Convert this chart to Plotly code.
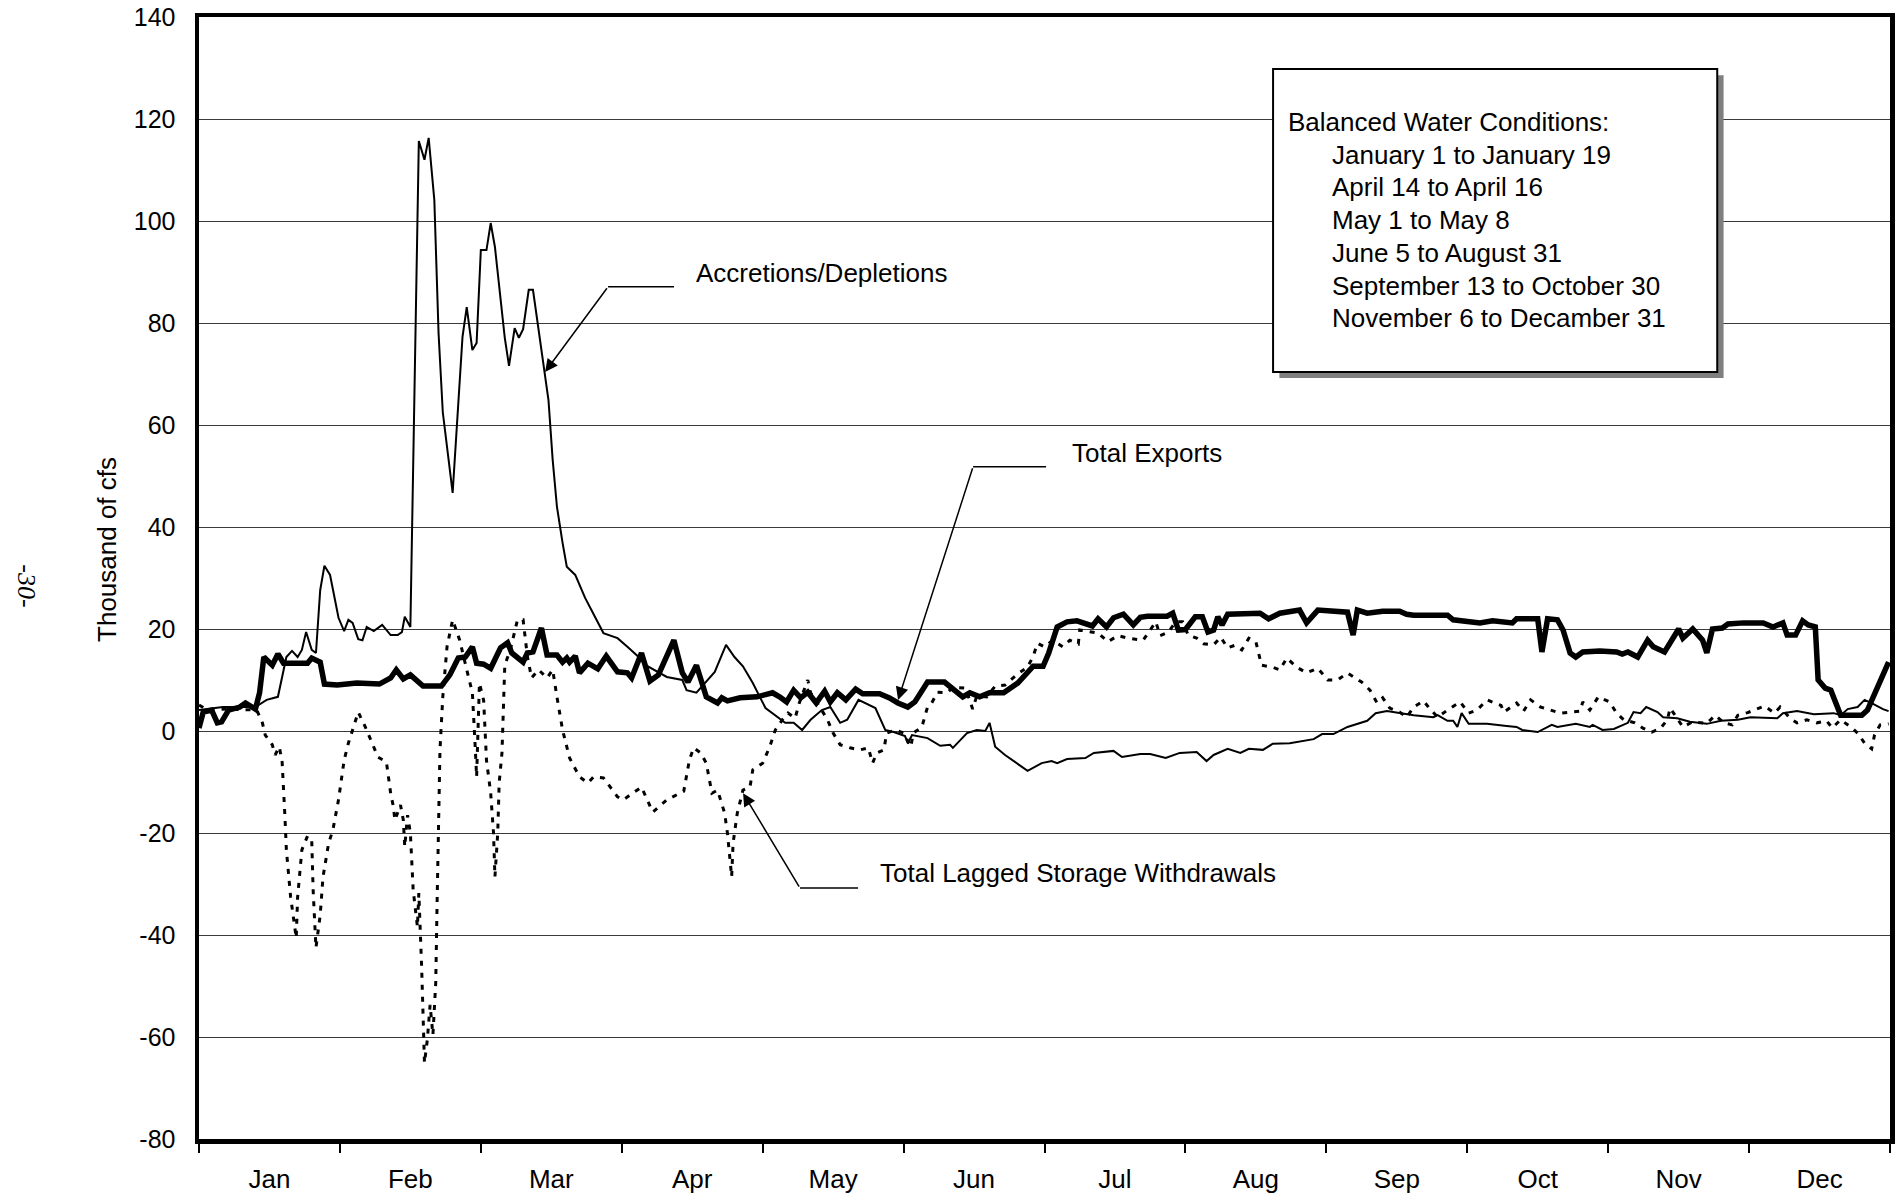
import plotly.graph_objects as go

# ---------------- data (x = position along the year in months, 0 = Jan 1, 12 = Dec 31; y = thousand cfs)
total_exports = [
    (0.00, 0.6), (0.03, 3.7), (0.09, 4.1), (0.13, 1.6), (0.16, 1.8), (0.21, 4.1), (0.29, 4.7), (0.33, 5.5),
    (0.40, 4.3), (0.43, 7.5), (0.46, 14.5), (0.52, 12.9), (0.56, 15.1), (0.60, 13.3), (0.77, 13.3), (0.80, 14.3),
    (0.86, 13.5), (0.89, 9.2), (0.98, 9.0), (1.12, 9.4), (1.28, 9.2), (1.36, 10.4), (1.40, 12.0), (1.45, 10.2),
    (1.50, 11.0), (1.59, 8.8), (1.72, 8.8), (1.78, 11.0), (1.84, 14.3), (1.89, 14.5), (1.94, 16.5), (1.97, 13.3),
    (2.02, 13.1), (2.07, 12.3), (2.14, 16.3), (2.19, 17.3), (2.22, 15.3), (2.30, 13.5), (2.33, 15.3), (2.37, 15.5),
    (2.43, 20.2), (2.47, 14.9), (2.54, 14.9), (2.58, 13.5), (2.61, 14.3), (2.63, 13.5), (2.67, 14.7), (2.70, 11.4),
    (2.76, 13.3), (2.83, 12.2), (2.89, 14.7), (2.97, 11.6), (3.04, 11.4), (3.07, 10.4), (3.14, 15.3), (3.20, 9.8),
    (3.26, 11.0), (3.37, 17.8), (3.43, 11.4), (3.47, 9.6), (3.53, 12.9), (3.57, 9.4), (3.60, 6.7), (3.68, 5.5),
    (3.71, 6.5), (3.75, 5.9), (3.84, 6.5), (3.96, 6.7), (4.07, 7.5), (4.12, 6.7), (4.17, 5.7), (4.22, 8.0),
    (4.27, 6.5), (4.32, 7.6), (4.38, 5.5), (4.44, 7.8), (4.48, 5.7), (4.53, 7.5), (4.59, 6.1), (4.66, 8.2),
    (4.71, 7.3), (4.83, 7.3), (4.90, 6.5), (4.96, 5.5), (5.03, 4.7), (5.08, 5.7), (5.17, 9.6), (5.29, 9.6),
    (5.42, 6.7), (5.47, 7.5), (5.54, 6.7), (5.61, 7.5), (5.71, 7.5), (5.81, 9.4), (5.88, 11.4), (5.92, 12.7),
    (5.99, 12.7), (6.03, 15.3), (6.09, 20.4), (6.16, 21.4), (6.23, 21.6), (6.34, 20.6), (6.38, 22.0), (6.44, 20.4),
    (6.49, 22.2), (6.56, 22.9), (6.63, 20.8), (6.68, 22.3), (6.73, 22.5), (6.87, 22.5), (6.91, 23.1), (6.95, 19.8),
    (7.00, 19.9), (7.07, 22.4), (7.12, 22.4), (7.16, 19.4), (7.20, 19.8), (7.23, 22.4), (7.26, 20.8), (7.30, 22.9),
    (7.53, 23.1), (7.59, 22.0), (7.67, 23.1), (7.81, 23.7), (7.86, 21.2), (7.94, 23.7), (8.15, 23.3), (8.19, 18.8),
    (8.22, 23.7), (8.29, 23.1), (8.40, 23.5), (8.52, 23.5), (8.57, 22.9), (8.62, 22.7), (8.86, 22.7), (8.90, 21.8),
    (9.09, 21.2), (9.18, 21.6), (9.32, 21.2), (9.35, 22.0), (9.50, 22.0), (9.53, 15.5), (9.57, 22.0), (9.64, 21.8),
    (9.68, 19.8), (9.73, 15.3), (9.77, 14.5), (9.82, 15.5), (9.94, 15.7), (10.06, 15.5), (10.10, 15.1), (10.14, 15.5),
    (10.21, 14.5), (10.28, 17.8), (10.32, 16.5), (10.40, 15.5), (10.50, 20.0), (10.53, 18.2), (10.60, 20.0),
    (10.67, 17.8), (10.70, 15.3), (10.74, 20.0), (10.81, 20.2), (10.85, 21.0), (10.96, 21.2), (11.10, 21.2),
    (11.17, 20.4), (11.24, 21.2), (11.27, 18.8), (11.33, 18.8), (11.38, 21.6), (11.42, 20.8), (11.47, 20.4),
    (11.49, 10.0), (11.54, 8.4), (11.58, 8.0), (11.65, 3.1), (11.80, 3.1), (11.84, 4.1), (11.93, 9.4), (11.99, 13.5),
]

accretions_depletions = [
    (0.00, 4.1), (0.17, 4.7), (0.40, 4.7), (0.48, 6.1), (0.56, 6.7), (0.62, 14.5), (0.66, 15.7), (0.70, 14.5),
    (0.73, 15.9), (0.76, 19.4), (0.80, 15.9), (0.83, 15.3), (0.86, 27.6), (0.89, 32.4), (0.93, 30.6), (0.99, 22.2),
    (1.03, 19.6), (1.06, 21.8), (1.09, 21.2), (1.13, 18.0), (1.16, 17.8), (1.19, 20.4), (1.24, 19.6), (1.30, 20.8),
    (1.36, 18.8), (1.41, 18.8), (1.44, 19.4), (1.46, 22.4), (1.50, 20.4), (1.56, 115.7), (1.60, 112.0),
    (1.63, 116.3), (1.67, 104.1), (1.70, 78.0), (1.73, 62.5), (1.80, 46.7), (1.87, 77.3), (1.90, 83.1),
    (1.94, 74.7), (1.97, 76.1), (2.00, 94.3), (2.04, 94.3), (2.07, 99.6), (2.10, 94.9), (2.17, 77.1), (2.20, 71.6),
    (2.24, 79.0), (2.27, 77.1), (2.30, 78.8), (2.34, 86.5), (2.37, 86.5), (2.43, 75.1), (2.48, 64.9), (2.51, 53.1),
    (2.54, 44.0), (2.58, 36.9), (2.61, 32.2), (2.67, 30.6), (2.74, 26.1), (2.87, 19.2), (2.97, 18.2), (3.04, 16.5),
    (3.12, 14.5), (3.17, 12.9), (3.32, 10.6), (3.43, 10.0), (3.46, 8.0), (3.53, 7.5), (3.66, 11.6), (3.74, 16.9),
    (3.80, 14.5), (3.86, 12.7), (3.93, 9.4), (4.02, 4.5), (4.10, 2.9), (4.16, 1.6), (4.22, 1.6), (4.28, 0.2),
    (4.34, 2.2), (4.42, 4.1), (4.48, 4.7), (4.55, 1.6), (4.60, 2.2), (4.68, 6.1), (4.80, 4.5), (4.87, 0.2),
    (4.93, -0.2), (5.01, -1.0), (5.03, -2.4), (5.06, -0.8), (5.17, -1.4), (5.26, -2.9), (5.33, -2.7), (5.35, -3.3),
    (5.45, -0.4), (5.52, 0.2), (5.58, 0.0), (5.61, 1.6), (5.65, -3.1), (5.72, -4.7), (5.88, -7.8), (5.98, -6.3),
    (6.05, -5.9), (6.09, -6.3), (6.16, -5.5), (6.29, -5.3), (6.35, -4.3), (6.49, -3.9), (6.55, -5.1), (6.68, -4.5),
    (6.75, -4.5), (6.86, -5.3), (6.96, -4.3), (7.08, -4.1), (7.15, -5.9), (7.20, -4.7), (7.30, -3.5), (7.39, -4.3),
    (7.45, -3.5), (7.55, -3.7), (7.62, -2.5), (7.74, -2.4), (7.91, -1.6), (7.97, -0.6), (8.05, -0.6), (8.15, 0.8),
    (8.29, 2.0), (8.35, 3.5), (8.43, 3.9), (8.52, 3.5), (8.62, 3.1), (8.76, 2.7), (8.79, 3.1), (8.86, 2.0),
    (8.90, 2.0), (8.93, 0.8), (8.96, 3.5), (9.01, 1.4), (9.14, 1.4), (9.28, 1.0), (9.35, 0.8), (9.39, 0.2),
    (9.50, -0.2), (9.60, 1.2), (9.64, 0.8), (9.77, 1.4), (9.87, 0.8), (9.89, 1.2), (9.96, 0.2), (10.04, 0.4),
    (10.14, 1.6), (10.18, 3.7), (10.23, 3.5), (10.27, 4.7), (10.35, 3.7), (10.39, 2.7), (10.49, 2.5), (10.58, 1.8),
    (10.70, 1.4), (10.80, 2.0), (10.92, 2.2), (11.01, 2.7), (11.20, 2.5), (11.24, 3.5), (11.34, 3.9), (11.46, 3.3),
    (11.60, 3.5), (11.65, 3.1), (11.70, 4.3), (11.77, 4.7), (11.82, 6.1), (11.88, 5.3), (11.95, 4.3), (11.99, 3.9),
]

lagged_storage_withdrawals = [
    (0.00, 5.1), (0.06, 4.1), (0.20, 4.3), (0.41, 4.1), (0.45, 1.6), (0.47, -0.8), (0.52, -2.7), (0.54, -4.7),
    (0.57, -3.1), (0.59, -6.1), (0.61, -16.9), (0.62, -23.3), (0.65, -32.5), (0.69, -40.6), (0.70, -32.5),
    (0.73, -23.3), (0.77, -20.6), (0.80, -21.4), (0.81, -31.2), (0.83, -42.5), (0.86, -36.1), (0.88, -28.6),
    (0.92, -22.0), (0.95, -19.4), (0.99, -13.5), (1.03, -5.7), (1.06, -2.4), (1.13, 3.7), (1.18, 0.8), (1.24, -3.1),
    (1.27, -5.1), (1.33, -6.1), (1.36, -12.2), (1.38, -14.9), (1.39, -17.5), (1.43, -14.5), (1.45, -17.5),
    (1.46, -22.7), (1.48, -16.5), (1.50, -20.0), (1.52, -31.2), (1.55, -38.4), (1.56, -31.8), (1.58, -46.3),
    (1.59, -56.1), (1.60, -65.1), (1.62, -60.6), (1.64, -53.7), (1.66, -59.6), (1.68, -49.4), (1.69, -33.1),
    (1.70, -13.5), (1.71, -3.7), (1.73, 6.7), (1.76, 16.5), (1.80, 21.8), (1.85, 17.8), (1.90, 12.0), (1.94, 7.5),
    (1.96, -3.1), (1.97, -9.0), (1.99, 9.4), (2.02, 6.0), (2.04, -5.7), (2.07, -12.2), (2.09, -20.0),
    (2.10, -28.6), (2.12, -20.0), (2.13, -10.2), (2.15, -4.3), (2.17, 12.9), (2.21, 16.0), (2.26, 21.8),
    (2.30, 21.8), (2.33, 14.7), (2.36, 10.4), (2.41, 12.0), (2.47, 10.4), (2.51, 12.0), (2.54, 6.7), (2.58, 0.2),
    (2.63, -5.3), (2.70, -9.0), (2.76, -10.2), (2.80, -9.0), (2.87, -9.2), (2.97, -12.9), (3.01, -13.5),
    (3.08, -12.2), (3.14, -11.0), (3.22, -15.9), (3.32, -13.5), (3.44, -11.8), (3.48, -5.7), (3.51, -3.3),
    (3.56, -4.3), (3.60, -6.3), (3.64, -12.2), (3.68, -11.6), (3.73, -16.1), (3.75, -20.0), (3.78, -28.6),
    (3.79, -22.0), (3.82, -16.1), (3.86, -11.6), (3.91, -11.0), (3.93, -7.6), (4.00, -6.3), (4.05, -3.1),
    (4.09, 0.2), (4.14, 2.2), (4.18, 3.5), (4.23, 2.5), (4.26, 5.5), (4.32, 10.0), (4.34, 7.5), (4.41, 4.5),
    (4.46, 2.2), (4.50, -0.4), (4.55, -2.7), (4.62, -3.3), (4.69, -3.7), (4.75, -3.3), (4.78, -6.3), (4.81, -4.3),
    (4.86, -3.7), (4.88, -0.4), (4.94, 0.2), (5.00, -0.4), (5.05, -3.1), (5.07, -0.4), (5.13, 0.8), (5.17, 4.7),
    (5.20, 5.5), (5.24, 7.6), (5.31, 7.5), (5.35, 8.6), (5.44, 8.4), (5.49, 4.3), (5.52, 6.9), (5.59, 6.7),
    (5.65, 8.8), (5.72, 9.0), (5.81, 11.2), (5.88, 12.5), (5.92, 14.7), (5.95, 17.2), (6.00, 16.5), (6.06, 17.8),
    (6.13, 16.5), (6.18, 17.8), (6.24, 17.1), (6.25, 19.8), (6.32, 19.5), (6.38, 19.2), (6.45, 17.5),
    (6.52, 18.7), (6.59, 18.2), (6.70, 17.8), (6.79, 21.4), (6.82, 18.7), (6.88, 19.4), (6.93, 21.4),
    (6.98, 21.4), (7.02, 18.8), (7.08, 18.2), (7.13, 17.1), (7.20, 16.9), (7.25, 18.4), (7.30, 16.3),
    (7.35, 16.8), (7.40, 15.9), (7.45, 18.2), (7.50, 17.5), (7.54, 12.9), (7.62, 12.5), (7.67, 12.0),
    (7.72, 14.3), (7.79, 12.5), (7.86, 11.4), (7.94, 12.3), (8.01, 10.0), (8.08, 10.0), (8.15, 11.4),
    (8.25, 9.6), (8.31, 8.0), (8.36, 5.5), (8.40, 6.5), (8.45, 4.5), (8.52, 3.7), (8.57, 2.7), (8.62, 4.7),
    (8.69, 5.9), (8.73, 4.5), (8.79, 2.7), (8.86, 4.1), (8.95, 5.7), (9.01, 3.5), (9.07, 4.1), (9.14, 6.1),
    (9.24, 5.0), (9.26, 3.7), (9.35, 5.5), (9.40, 3.9), (9.45, 6.1), (9.52, 4.7), (9.66, 3.5), (9.80, 3.9),
    (9.82, 5.7), (9.87, 4.1), (9.93, 6.7), (10.01, 5.7), (10.06, 3.5), (10.11, 2.2), (10.19, 1.6), (10.25, 0.5),
    (10.31, -0.2), (10.37, 0.5), (10.42, 2.2), (10.44, 4.5), (10.53, 0.8), (10.60, 1.8), (10.70, 1.5),
    (10.76, 3.1), (10.82, 1.6), (10.88, 1.2), (10.92, 3.1), (10.99, 3.6), (11.06, 4.3), (11.11, 4.9),
    (11.18, 3.5), (11.22, 4.7), (11.29, 2.5), (11.34, 1.6), (11.41, 2.2), (11.48, 1.6), (11.55, 2.0),
    (11.59, 0.6), (11.65, 2.2), (11.73, 0.6), (11.77, -0.4), (11.82, -2.4), (11.87, -3.5), (11.89, -0.8),
    (11.93, 1.2), (11.99, 1.4),
]

month_labels = ["Jan", "Feb", "Mar", "Apr", "May", "Jun", "Jul", "Aug", "Sep", "Oct", "Nov", "Dec"]
y_ticks = [-80, -60, -40, -20, 0, 20, 40, 60, 80, 100, 120, 140]
y_title = "Thousand of cfs"
page_number = "-30-"
bwc_title = "Balanced Water Conditions:"
bwc_periods = [
    "January 1 to January 19",
    "April 14 to April 16",
    "May 1 to May 8",
    "June 5 to August 31",
    "September 13 to October 30",
    "November 6 to Decamber 31",
]

# ---------------- figure
FONT = "Liberation Sans, Arial, sans-serif"
fig = go.Figure()


def add_series(pairs, name, line):
    fig.add_trace(go.Scatter(
        x=[p[0] for p in pairs], y=[p[1] for p in pairs], mode="lines", name=name,
        line=line, showlegend=False, hoverinfo="skip"))


add_series(lagged_storage_withdrawals, "Total Lagged Storage Withdrawals",
           dict(color="black", width=3, dash="5px,7px"))
add_series(accretions_depletions, "Accretions/Depletions", dict(color="black", width=2))
add_series(total_exports, "Total Exports", dict(color="black", width=5.5))

shapes = []
annotations = []

# Balanced-water-conditions box with drop shadow
box = dict(x0=7.622, x1=10.774, y0=70.4, y1=129.8)
shapes.append(dict(type="rect", xref="x", yref="y", layer="above",
                   x0=box["x0"] + 0.045, x1=box["x1"] + 0.045, y0=box["y0"] - 1.2, y1=box["y1"] - 1.2,
                   fillcolor="#7f7f7f", line=dict(width=0)))
shapes.append(dict(type="rect", xref="x", yref="y", layer="above", **box,
                   fillcolor="white", line=dict(color="black", width=2)))
line_y0, line_step = 119.4, 6.41
annotations.append(dict(x=7.715, y=line_y0, xref="x", yref="y", text=bwc_title, showarrow=False,
                        xanchor="left", yanchor="middle", font=dict(family=FONT, size=26, color="black")))
for i, txt in enumerate(bwc_periods):
    annotations.append(dict(x=8.027, y=line_y0 - line_step * (i + 1), xref="x", yref="y", text=txt,
                            showarrow=False, xanchor="left", yanchor="middle",
                            font=dict(family=FONT, size=26, color="black")))

# Callouts: (label, label x, label y, elbow x, elbow y, horizontal end x, tip x, tip y)
callouts = [
    ("Accretions/Depletions", 3.51, 89.8, 2.903, 87.1, 3.371, 2.456, 70.4),
    ("Total Exports", 6.18, 54.6, 5.493, 51.8, 6.011, 4.961, 6.1),
    ("Total Lagged Storage Withdrawals", 4.82, -27.9, 4.265, -30.8, 4.677, 3.861, -12.2),
]
for label, lx, ly, ex, ey, hx, tx, ty in callouts:
    shapes.append(dict(type="line", xref="x", yref="y", layer="above", x0=ex, y0=ey, x1=hx, y1=ey,
                       line=dict(color="black", width=1.5)))
    annotations.append(dict(x=tx, y=ty, ax=ex, ay=ey, xref="x", yref="y", axref="x", ayref="y",
                            text="", showarrow=True, arrowhead=2, arrowsize=1.7, arrowwidth=1.5,
                            arrowcolor="black", standoff=0, startstandoff=0))
    annotations.append(dict(x=lx, y=ly, xref="x", yref="y", text=label, showarrow=False,
                            xanchor="left", yanchor="middle", font=dict(family=FONT, size=26, color="black")))

# y-axis title and page number
annotations.append(dict(x=-0.0544, y=0.525, xref="paper", yref="paper", text=y_title, showarrow=False,
                        textangle=-90, xanchor="center", yanchor="middle",
                        font=dict(family=FONT, size=26, color="black")))
annotations.append(dict(x=-0.102, y=0.493, xref="paper", yref="paper", text=page_number, showarrow=False,
                        textangle=90, xanchor="center", yanchor="middle",
                        font=dict(family="Liberation Serif, Times New Roman, serif", size=26,
                                  color="black", style="italic")))

fig.update_layout(
    width=1902, height=1196,
    margin=dict(l=199, r=12, t=17, b=57, autoexpand=False),
    paper_bgcolor="white", plot_bgcolor="white",
    font=dict(family=FONT, size=25, color="black"),
    shapes=shapes, annotations=annotations, showlegend=False,
    xaxis=dict(
        range=[0, 12], tickmode="array",
        tickvals=[i + 0.5 for i in range(12)], ticktext=month_labels,
        ticks="", showgrid=False, zeroline=False,
        showline=True, linecolor="black", linewidth=4.5, mirror=True,
        tickfont=dict(family=FONT, size=26, color="black"), ticklabelstandoff=13,
        ticklabeloverflow="allow",
        minor=dict(tickmode="array", tickvals=list(range(13)), ticks="outside",
                   ticklen=9, tickwidth=2, tickcolor="black", showgrid=False),
        fixedrange=True,
    ),
    yaxis=dict(
        range=[-80, 140], tickmode="array", tickvals=y_ticks, ticktext=[str(v) for v in y_ticks],
        ticks="", showgrid=True, gridcolor="#3a3a3a", gridwidth=1, zeroline=False,
        showline=True, linecolor="black", linewidth=4.5, mirror=True,
        tickfont=dict(family=FONT, size=25, color="black"), ticklabelstandoff=14,
        ticklabeloverflow="allow",
        fixedrange=True,
    ),
)

# Remove the browser's default 8px body margin so the 1902x1196 figure fills the window exactly.
fig.write_html(
    "out.html",
    config={"displayModeBar": False, "staticPlot": True},
    post_script="document.documentElement.style.margin='0';document.body.style.margin='0';"
                "document.body.style.overflow='hidden';",
)
